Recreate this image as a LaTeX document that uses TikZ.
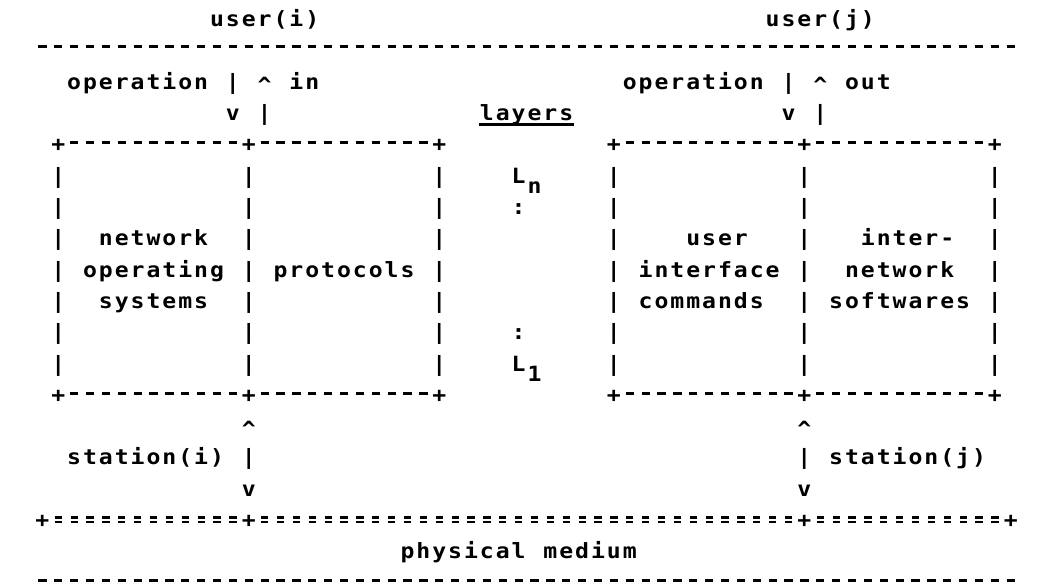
\documentclass[tikz,border=0pt]{standalone}
\usepackage{fontspec}
\newfontfamily\printfont{DejaVu Sans Mono}[FakeStretch=1.1]

% one printer cell: 15.875 units wide
\newlength\cellw
\setlength\cellw{11.90625pt}

\ExplSyntaxOn
% set a string with every character centred in its own cell
\NewDocumentCommand \gridtext { m }
  {
    \str_map_inline:nn {#1}
      { \hbox_to_wd:nn { \cellw } { \hfil ##1 \hfil } }
  }
% a run of #1 cells, each holding #2
\NewDocumentCommand \gridrep { m m }
  {
    \prg_replicate:nn {#1}
      { \hbox_to_wd:nn { \cellw } { \hfil #2 \hfil } }
  }
\ExplSyntaxOff

% printer marks for the rules: a short dash and a short double bar
\newcommand\dashmark{\rule[5.6pt]{6.2pt}{2.3pt}}
\newcommand\eqmark{\rlap{\rule[3.2pt]{5.4pt}{2pt}}\rule[6.6pt]{5.4pt}{2pt}}

% node at column #2, text row #3
\newcommand\gridat[4]{%
  \node[cell] (#1) at ({34.4625+15.875*(#2)},{26.7+31.3*(#3)}) {#4};}
\newcommand\gridword[4]{\gridat{#1}{#2}{#3}{\gridtext{#4}}}
\newcommand\boxedge{\gridtext{+}\gridrep{11}{\dashmark}\gridtext{+}\gridrep{11}{\dashmark}\gridtext{+}}

\begin{document}
\begin{tikzpicture}[x=0.75pt,y=-0.75pt,
  cell/.style={anchor=base west, inner sep=0pt, outer sep=0pt,
    font=\printfont\bfseries\fontsize{15.75pt}{18pt}\selectfont}]
\fill[white] (0,0) rectangle (1037,585);
\useasboundingbox (0,0) rectangle (1037,585);

% users and the upper boundary
\gridword{useri}{11}{0}{user(i)}
\gridword{userj}{46}{0}{user(j)}
\gridat{userline}{0}{0.92}{\gridrep{62}{\dashmark}}

% operations going in and out
\gridword{opi}{2}{2}{operation}
\gridword{downi}{12}{2}{|}
\gridword{upheadi}{14}{2.1}{^}
\gridword{in}{16}{2}{in}
\gridword{vheadi}{12}{3}{v}
\gridword{upi}{14}{3}{|}

\gridword{opj}{37}{2}{operation}
\gridword{downj}{47}{2}{|}
\gridword{upheadj}{49}{2.1}{^}
\gridword{out}{51}{2}{out}
\gridword{vheadj}{47}{3}{v}
\gridword{upj}{49}{3}{|}

% layer heading
\gridword{layers}{28}{3}{layers}
\draw[line width=1.8pt] ([yshift=-3pt]layers.base west) -- ([yshift=-3pt]layers.base east);

% the two stations' boxes
\gridat{ltop}{1}{4}{\boxedge}
\gridat{rtop}{36}{4}{\boxedge}
\gridat{lbot}{1}{12}{\boxedge}
\gridat{rbot}{36}{12}{\boxedge}
\foreach \rr in {5,...,11}{
  \foreach \cc in {1,13,25,36,48,60}{
    \gridword{bar-\rr-\cc}{\cc}{\rr}{|}
  }
}

% left station contents
\gridword{nos1}{4}{7}{network}
\gridword{nos2}{3}{8}{operating}
\gridword{nos3}{4}{9}{systems}
\gridword{proto}{15}{8}{protocols}

% right station contents
\gridword{uic1}{41}{7}{user}
\gridword{uic2}{38}{8}{interface}
\gridword{uic3}{38}{9}{commands}
\gridword{inw1}{52}{7}{inter-}
\gridword{inw2}{51}{8}{network}
\gridword{inw3}{50}{9}{softwares}

% layers L_n down to L_1
\gridword{ln}{30}{5}{L}
\gridword{lnsub}{31}{5.34}{n}
\gridword{ldotsa}{30}{6}{:}
\gridword{ldotsb}{30}{10}{:}
\gridword{lone}{30}{11}{L}
\gridword{lonesub}{31}{11.32}{1}

% station links to the medium
\gridword{upheadsi}{13}{13.1}{^}
\gridword{stationi}{2}{14}{station(i)}
\gridword{linki}{13}{14}{|}
\gridword{vheadsi}{13}{15}{v}

\gridword{upheadsj}{48}{13.1}{^}
\gridword{linkj}{48}{14}{|}
\gridword{stationj}{50}{14}{station(j)}
\gridword{vheadsj}{48}{15}{v}

% physical medium
\gridat{medium}{0}{16}{\gridtext{+}\gridrep{12}{\eqmark}\gridtext{+}\gridrep{34}{\eqmark}\gridtext{+}\gridrep{12}{\eqmark}\gridtext{+}}
\gridword{phys}{23}{17}{physical medium}
\gridat{mediumline}{0}{17.97}{\gridrep{62}{\dashmark}}
\end{tikzpicture}
\end{document}
